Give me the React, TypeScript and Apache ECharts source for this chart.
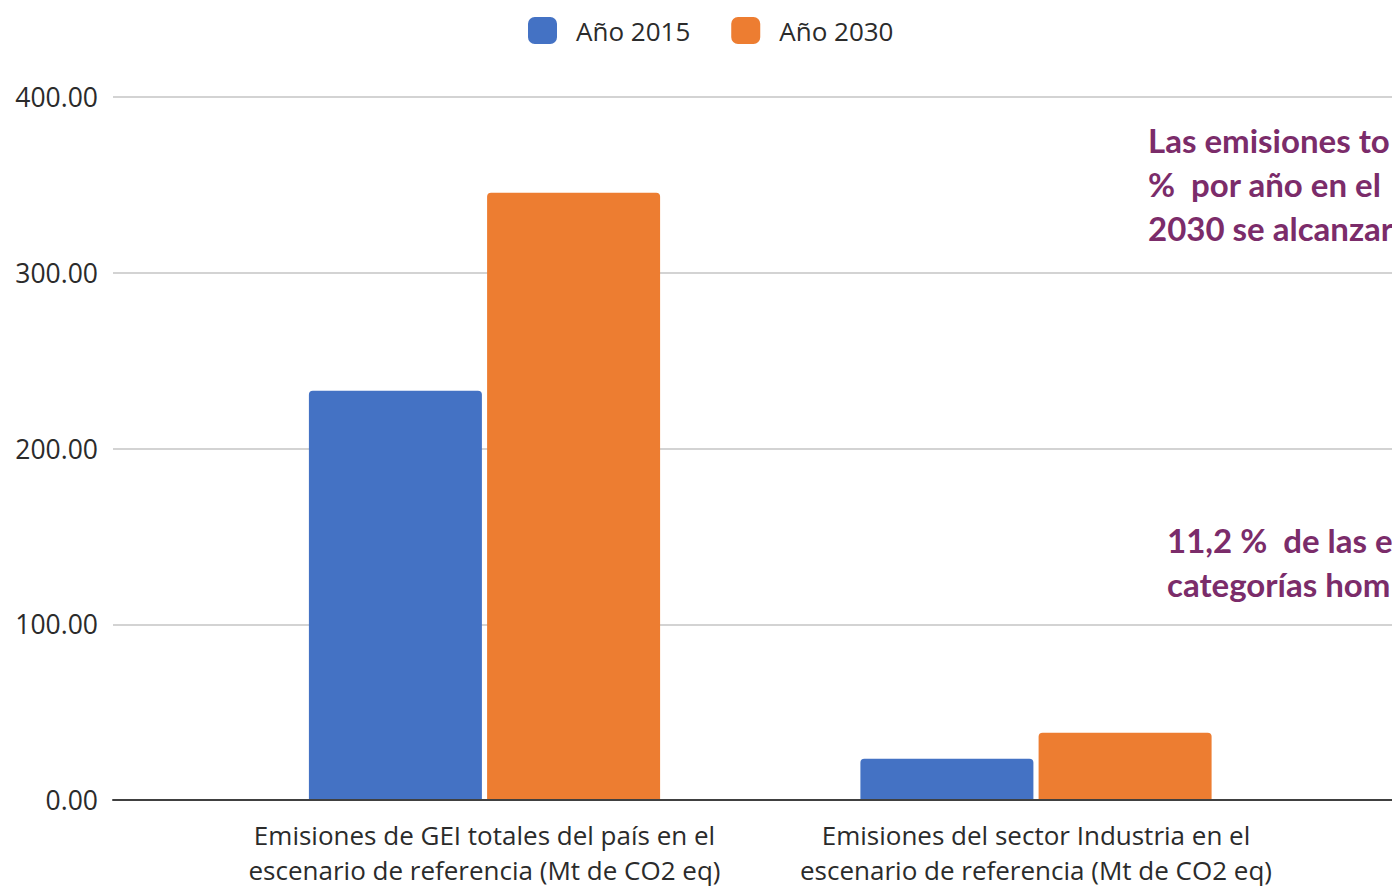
import React, { useEffect, useRef } from "react";
import * as echarts from "echarts";

const categories = [
  "Emisiones de GEI totales del país en el\nescenario de referencia (Mt de CO2 eq)",
  "Emisiones del sector Industria en el\nescenario de referencia (Mt de CO2 eq)",
];
const seriesNames = ["Año 2015", "Año 2030"];
const values2015 = [232.8, 23.5];
const values2030 = [345.5, 38.3];
const yTicks = { min: 0, max: 400, interval: 100 };
const note1 = ["Las emisiones to", "%  por año en el", "2030 se alcanzar"];
const note2 = ["11,2 %  de las e", "categorías hom"];

const BLUE = "#4472C4";
const ORANGE = "#ED7D31";
const PURPLE = "#7B2C6A";

export default function App() {
  const ref = useRef<HTMLDivElement>(null);
  useEffect(() => {
    if (!ref.current) return;
    const chart = echarts.init(ref.current, undefined, { renderer: "svg" });
    const font = "'Open Sans', 'Noto Sans', sans-serif";
    chart.setOption({
      animation: false,
      backgroundColor: "#ffffff",
      legend: {
        data: seriesNames,
        left: 528,
        top: 17,
        padding: 0,
        itemWidth: 29,
        itemHeight: 27,
        itemGap: 41,
        icon: "roundRect",
        textStyle: { fontSize: 26, color: "#2b2b2b", fontFamily: font, padding: [0, 0, 0, 14] },
      },
      grid: [
        { left: 113, top: 97, width: 1320, height: 703 },
        { left: 208.75, top: 97, width: 1103, height: 703 },
      ],
      xAxis: [
        {
          type: "category",
          gridIndex: 0,
          data: [""],
          axisLine: { show: true, lineStyle: { color: "#404040", width: 2 } },
          axisTick: { show: false },
          axisLabel: { show: false },
          z: 5,
        },
        {
          type: "category",
          gridIndex: 1,
          data: categories,
          axisLine: { show: false },
          axisTick: { show: false },
          axisLabel: {
            interval: 0,
            hideOverlap: false,
            fontSize: 26,
            lineHeight: 35,
            color: "#2b2b2b",
            fontFamily: font,
            margin: 17,
          },
        },
      ],
      yAxis: [
        {
          type: "value",
          gridIndex: 0,
          min: yTicks.min,
          max: yTicks.max,
          interval: yTicks.interval,
          axisLine: { show: false },
          axisTick: { show: false },
          axisLabel: {
            formatter: (v: number) => v.toFixed(2),
            fontSize: 26.5,
            color: "#2b2b2b",
            fontFamily: font,
            margin: 15,
          },
          splitLine: { lineStyle: { color: "#d3d3d3", width: 2 } },
        },
        {
          type: "value",
          gridIndex: 1,
          min: yTicks.min,
          max: yTicks.max,
          interval: yTicks.interval,
          show: false,
          splitLine: { show: false },
        },
      ],
      series: [
        {
          name: seriesNames[0],
          type: "bar",
          xAxisIndex: 1,
          yAxisIndex: 1,
          data: values2015,
          itemStyle: { color: BLUE, borderRadius: [4, 4, 0, 0] },
          barWidth: 173,
          barGap: "3%",
        },
        {
          name: seriesNames[1],
          type: "bar",
          xAxisIndex: 1,
          yAxisIndex: 1,
          data: values2030,
          itemStyle: { color: ORANGE, borderRadius: [4, 4, 0, 0] },
          barWidth: 173,
          barGap: "3%",
        },
      ],
      graphic: [
        {
          type: "text",
          left: 1148,
          top: 118,
          z: 10,
          style: {
            text: note1.join("\n"),
            fontSize: 33,
            fontWeight: "bold",
            fontFamily: "Lato, 'Open Sans', sans-serif",
            lineHeight: 44,
            fill: PURPLE,
          },
        },
        {
          type: "text",
          left: 1167,
          top: 518,
          z: 10,
          style: {
            text: note2.join("\n"),
            fontSize: 33,
            fontWeight: "bold",
            fontFamily: "Lato, 'Open Sans', sans-serif",
            lineHeight: 44,
            fill: PURPLE,
          },
        },
      ],
    });
    return () => chart.dispose();
  }, []);
  return (
    <div
      ref={ref}
      style={{ position: "fixed", left: 0, top: 0, width: 1392, height: 888, overflow: "hidden" }}
    />
  );
}
